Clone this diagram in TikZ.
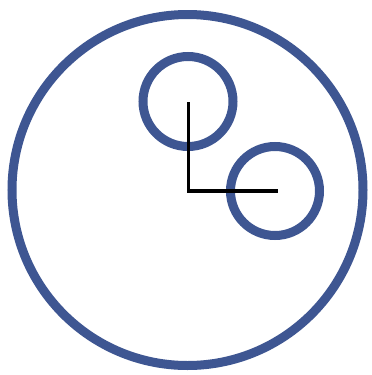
\documentclass[tikz,border=0pt]{standalone}
\definecolor{ringblue}{RGB}{62,86,146}
\begin{document}
\begin{tikzpicture}[x=1pt,y=-1pt,
  ring/.style={draw=ringblue,line width=9pt},
  axisline/.style={draw=black,line width=3.6pt,line join=miter}]
\useasboundingbox (0,0) rectangle (372,375);
\coordinate (big) at (187.5,190);
\coordinate (c1) at (188,101.5);
\coordinate (c2) at (275,191);
\draw[ring] (big) circle[radius=175.5];
\draw[ring] (c1) circle[radius=45];
\draw[ring] (c2) circle[radius=44.5];
\coordinate (top) at (188.5,102);
\coordinate (corner) at (188.5,191);
\coordinate (right) at (278,191);
\draw[axisline] (top) -- (corner) -- (right);
\end{tikzpicture}
\end{document}
